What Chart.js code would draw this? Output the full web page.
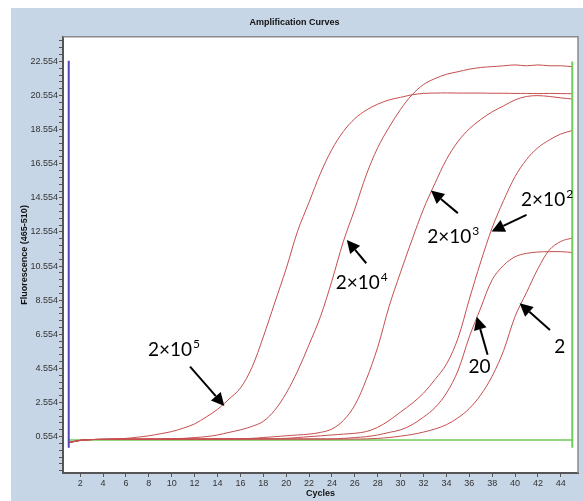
<!DOCTYPE html>
<html><head><meta charset="utf-8">
<script src="https://cdn.jsdelivr.net/npm/chart.js@4.4.1/dist/chart.umd.min.js"></script>
<style>
html,body{margin:0;padding:0;background:#fff;width:583px;height:501px;overflow:hidden;}
#wrap{position:absolute;left:11px;top:8px;width:572px;height:493px;background:#c6d6e6;}
canvas{display:block;}
</style></head><body>
<div id="wrap"><canvas id="c" width="572" height="493"></canvas></div>
<script>
// ---- data ----
const cycles = [1,2,3,4,5,6,7,8,9,10,11,12,13,14,15,16,17,18,19,20,21,22,23,24,25,26,27,28,29,30,31,32,33,34,35,36,37,38,39,40,41,42,43,44,45];
const s2e5 = [0.22,0.35,0.38,0.40,0.42,0.45,0.52,0.60,0.72,0.85, 1.05,1.30,1.70,2.15,2.75,3.40,4.60,6.40,8.40,10.40, 12.60,14.30,16.00,17.40,18.45,19.20,19.70,20.05,20.30,20.45, 20.60,20.68,20.70,20.71,20.70,20.70,20.70,20.69,20.69,20.68, 20.68,20.67,20.68,20.67,20.66];
const s2e4 = [0.20,0.33,0.38,0.40,0.40,0.41,0.41,0.42,0.42,0.43, 0.45,0.50,0.55,0.65,0.80,0.95,1.15,1.45,2.10,3.10, 4.40,5.95,7.60,9.70,12.00,13.90,15.90,17.50,18.70,19.75, 20.60,21.20,21.55,21.80,21.95,22.10,22.20,22.25,22.30,22.35, 22.30,22.35,22.30,22.30,22.25];
const s2e3 = [0.20,0.33,0.38,0.40,0.40,0.40,0.41,0.41,0.41,0.42, 0.42,0.42,0.42,0.42,0.42,0.43,0.45,0.50,0.55,0.60, 0.65,0.70,0.80,1.00,1.50,2.40,3.90,5.80,8.20,10.20, 12.10,13.90,15.40,16.80,17.85,18.60,19.15,19.60,19.95,20.30, 20.50,20.55,20.50,20.42,20.35];
const s2e2 = [0.20,0.33,0.38,0.39,0.40,0.40,0.40,0.40,0.41,0.41, 0.41,0.41,0.41,0.42,0.42,0.42,0.42,0.42,0.43,0.45, 0.50,0.55,0.60,0.65,0.70,0.75,0.85,1.10,1.50,2.00, 2.50,3.10,3.90,4.80,6.30,8.60,10.80,12.80,14.40,15.80, 16.80,17.50,17.95,18.30,18.50];
const s20  = [0.20,0.33,0.38,0.39,0.40,0.40,0.40,0.40,0.40,0.41, 0.41,0.41,0.41,0.41,0.41,0.41,0.42,0.42,0.42,0.42, 0.42,0.42,0.42,0.42,0.45,0.50,0.55,0.65,0.80,0.95, 1.25,1.70,2.25,3.10,4.40,6.40,8.10,9.75,10.60,11.10, 11.30,11.38,11.40,11.40,11.35];
const s2   = [0.20,0.33,0.38,0.39,0.40,0.40,0.40,0.40,0.40,0.40, 0.40,0.40,0.41,0.41,0.41,0.41,0.41,0.41,0.41,0.41, 0.41,0.41,0.41,0.41,0.41,0.41,0.42,0.45,0.50,0.58, 0.68,0.82,1.00,1.25,1.65,2.20,3.00,4.10,5.60,7.60, 9.00,10.40,11.50,12.00,12.20];
const seriesNames = ['2×10⁵','2×10⁴','2×10³','2×10²','20','2'];
// analysis range markers (cycle, fluorescence)
const startMarkX = [1, 1];
const startMarkY = [-0.1, 22.6];
const endMarkX = [45, 45];
const endMarkY = [-0.1, 22.55];
const baseLineX = [1, 45];
const baseLineY = [0.36, 0.36];
// tick labels
const xTickValues = [2,4,6,8,10,12,14,16,18,20,22,24,26,28,30,32,34,36,38,40,42,44];
const yTickLabels = ['0.554','2.554','4.554','6.554','8.554','10.554','12.554','14.554','16.554','18.554','20.554','22.554'];
// annotations: text, superscript, text centre [cycle, value], arrow tail, arrow tip
const annText = ['2×10','2×10','2×10','2×10','20','2'];
const annSup  = ['5','4','3','2','',''];
const annAt   = [[10.2,5.64],[26.6,9.57],[34.6,12.28],[42.8,14.44],[36.9,4.66],[43.9,5.83]];
const annFrom = [[11.6,4.66],[27.0,10.72],[35.0,13.66],[41.0,13.56],[37.6,5.35],[43.05,6.81]];
const annTo   = [[14.6,2.35],[25.3,12.09],[32.65,14.98],[37.95,12.58],[36.65,7.59],[40.4,8.38]];

// ---- chart ----
const pts = (xs, ys) => xs.map((v,i)=>({x:v, y:ys[i]}));
const curveColor = 'rgb(198,78,78)';
const allSeries = [s2e5, s2e4, s2e3, s2e2, s20, s2];
const datasets = allSeries.map((s,i)=>({
  label: seriesNames[i], data: pts(cycles, s), borderColor: curveColor, borderWidth: 1,
  pointRadius: 0, tension: 0.35, order: 1
}));
datasets.push({label:'base', data: pts(baseLineX, baseLineY), borderColor:'rgb(110,205,90)', borderWidth:1.5, pointRadius:0, order:5});
datasets.push({label:'start', data: pts(startMarkX, startMarkY), borderColor:'rgb(80,70,185)', borderWidth:2, pointRadius:0, order:0});
datasets.push({label:'end', data: pts(endMarkX, endMarkY), borderColor:'rgb(110,205,90)', borderWidth:2, pointRadius:0, order:0});

const framePlugin = {
  id:'frame',
  beforeDraw(chart){
    const {ctx, chartArea:a} = chart;
    ctx.save(); ctx.fillStyle='#fff'; ctx.fillRect(a.left, a.top, a.right-a.left, a.bottom-a.top); ctx.restore();
  },
  afterDraw(chart){
    const {ctx, chartArea:a} = chart;
    ctx.save(); ctx.strokeStyle='#8a8a8a'; ctx.lineWidth=1.5;
    ctx.beginPath(); ctx.moveTo(a.left, a.top); ctx.lineTo(a.right, a.top); ctx.lineTo(a.right, a.bottom); ctx.stroke();
    ctx.restore();
  }
};
const arrowPlugin = {
  id:'arrows',
  afterDatasetsDraw(chart){
    const {ctx, scales:{x,y}} = chart;
    ctx.save();
    ctx.fillStyle='#000'; ctx.strokeStyle='#000';
    annText.forEach((t,i)=>{
      const x1=x.getPixelForValue(annFrom[i][0]), y1=y.getPixelForValue(annFrom[i][1]);
      const x2=x.getPixelForValue(annTo[i][0]), y2=y.getPixelForValue(annTo[i][1]);
      const ang=Math.atan2(y2-y1,x2-x1), head=13, hw=6.5;
      const bx=x2-head*Math.cos(ang), by=y2-head*Math.sin(ang);
      ctx.lineWidth=2;
      ctx.beginPath(); ctx.moveTo(x1,y1); ctx.lineTo(bx,by); ctx.stroke();
      ctx.beginPath(); ctx.moveTo(x2,y2);
      ctx.lineTo(bx+hw*Math.sin(ang), by-hw*Math.cos(ang));
      ctx.lineTo(bx-hw*Math.sin(ang), by+hw*Math.cos(ang));
      ctx.closePath(); ctx.fill();
      ctx.font='19px Lato'; const w1=ctx.measureText(t).width;
      ctx.font='12px Lato'; const w2=annSup[i]?ctx.measureText(annSup[i]).width+1:0;
      const tx=x.getPixelForValue(annAt[i][0])-(w1+w2)/2, ty=y.getPixelForValue(annAt[i][1]);
      ctx.textAlign='left'; ctx.textBaseline='middle';
      ctx.font='19px Lato'; ctx.fillText(t,tx,ty);
      if(annSup[i]){ ctx.font='12px Lato'; ctx.fillText(annSup[i], tx+w1+1, ty-6); }
    });
    ctx.restore();
  }
};

const tickFont = {family:'Liberation Sans, Arial, sans-serif', size:9};
new Chart(document.getElementById('c'), {
  type:'line',
  data:{datasets},
  options:{
    responsive:false, animation:false, devicePixelRatio:1,
    layout:{padding:{left:0,right:5,top:0,bottom:0}},
    plugins:{
      legend:{display:false}, tooltip:{enabled:false},
      title:{display:true, text:'Amplification Curves', color:'#111',
        font:{family:'Liberation Sans, Arial, sans-serif', size:9, weight:'bold'}, padding:{top:9,bottom:9}}
    },
    scales:{
      x:{type:'linear', min:0.5, max:45.5,
        afterBuildTicks: s => { s.ticks = xTickValues.map(v=>({value:v})); },
        afterFit: s => { s.height = 28; },
        ticks:{autoSkip:false, maxRotation:0, padding:1, color:'#333', font:tickFont, callback: v => String(v)},
        grid:{drawOnChartArea:false, drawTicks:true, tickLength:4, color:'#555'},
        border:{display:true, color:'#555', width:2},
        title:{display:true, text:'Cycles', color:'#111', font:{family:'Liberation Sans, Arial, sans-serif', size:9, weight:'bold'}, padding:{top:0,bottom:2}}
      },
      y:{type:'linear', min:-1.58, max:24.0,
        afterBuildTicks: s => {
          const t=[]; for(let k=-5;k<=60;k++){ const v=0.554+0.4*k; if(v>=s.min && v<=s.max) t.push({value:v}); }
          s.ticks=t;
        },
        afterFit: s => { s.width = 52; },
        ticks:{autoSkip:false, padding:1, color:'#333', font:tickFont,
          callback: v => { const k=Math.round((v-0.554)/0.4); return (k>=0 && k%5===0) ? yTickLabels[k/5] : ''; }},
        grid:{drawOnChartArea:false, drawTicks:true, tickLength:4, color:'#555'},
        border:{display:true, color:'#555', width:2},
        title:{display:true, text:'Fluorescence (465-510)', color:'#111', font:{family:'Liberation Sans, Arial, sans-serif', size:9, weight:'bold'}, padding:{top:8,bottom:0}}
      }
    }
  },
  plugins:[framePlugin, arrowPlugin]
});
</script>
</body></html>
